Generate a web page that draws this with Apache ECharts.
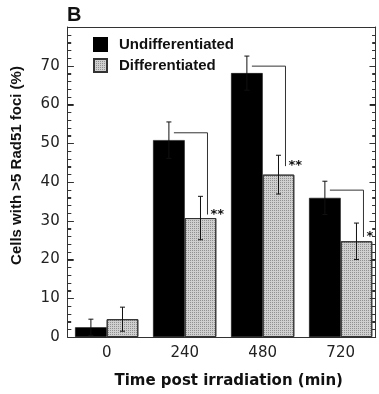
<!DOCTYPE html>
<html>
<head>
<meta charset="utf-8">
<script src="https://cdn.jsdelivr.net/npm/echarts@6/dist/echarts.min.js"></script>
<style>
html, body { margin: 0; padding: 0; background: #fff; }
#chart { width: 379px; height: 394px; }
</style>
</head>
<body>
<div id="chart"></div>
<script>
// 数据
var categories = ['0', '240', '480', '720'];
var undiff = [2.5, 50.8, 68.1, 35.9];
var undiffErr = [2.1, 4.7, 4.4, 4.3];
var diff = [4.6, 30.7, 41.9, 24.7];
var diffErr = [3.1, 5.6, 5.0, 4.7];
var bracketTop = [null, 52.7, 69.9, 37.9];
var bracketEnd = [null, 31.6, 44.1, 25.8];
var stars = ['', '**', '**', '*'];
var yTicks = [0, 10, 20, 30, 40, 50, 60, 70];
var yFrameTicks = [0, 2, 4, 6, 8, 10, 12, 14, 16, 18, 20, 22, 24, 26, 28, 30, 32, 34, 36, 38, 40,
    42, 44, 46, 48, 50, 52, 54, 56, 58, 60, 62, 64, 66, 68, 70, 72, 74, 76, 78, 80];

var BAR_W = 31.6;
var X_MIN = 0, X_MAX = 3.949;

// 组中心放在 i+0.5
var barData1 = [], barData2 = [], errData = [], brData = [], xCenters = [];
for (let i = 0; i < categories.length; i++) {
    let c = i + 0.5;
    xCenters.push(c);
    barData1.push([c, undiff[i]]);
    barData2.push([c, diff[i]]);
    errData.push([c, undiff[i], undiffErr[i], -1]);
    errData.push([c, diff[i], diffErr[i], 1]);
    if (bracketTop[i] !== null) {
        brData.push([c, bracketTop[i], bracketEnd[i], stars[i]]);
    }
}

var chart = echarts.init(document.getElementById('chart'));

var tickFont = { fontFamily: 'DejaVu Sans', fontSize: 15, color: '#222' };

// 左右两侧y轴的公共设置
function frameY(pos, xIdx) {
    return {
        type: 'value',
        min: 0,
        max: 80,
        interval: 10,
        position: pos,
        splitLine: { show: false },
        axisLine: { show: true, onZero: true, onZeroAxisIndex: xIdx, lineStyle: { color: '#333', width: 1 } },
        axisTick: { show: true, inside: true, length: 6, lineStyle: { color: '#222', width: 1 } },
        minorTick: { show: true, splitNumber: 5, length: 3.5, lineStyle: { color: '#333', width: 1 } },
        axisLabel: { show: false }
    };
}

var leftY = frameY('left', 0);
leftY.axisLabel = Object.assign({ show: true, customValues: yTicks, margin: 8 }, tickFont);
leftY.name = 'Cells with >5 Rad51 foci (%)';
leftY.nameLocation = 'middle';
leftY.nameRotate = 90;
leftY.nameGap = 43;
leftY.nameTextStyle = {
    fontFamily: 'Liberation Sans', fontWeight: 'bold', fontSize: 15, color: '#111',
    padding: [0, 0, 0, 33]
};

var option = {
    animation: false,
    title: {
        text: 'B',
        left: 67,
        top: 5,
        padding: 0,
        textStyle: { fontFamily: 'Liberation Sans', fontWeight: 'bold', fontSize: 20, color: '#111' }
    },
    legend: {
        orient: 'vertical',
        left: 93,
        top: 37,
        padding: 0,
        itemWidth: 13,
        itemHeight: 13,
        itemGap: 6,
        selectedMode: false,
        icon: 'rect',
        data: ['Undifferentiated', 'Differentiated'],
        textStyle: {
            fontFamily: 'Liberation Sans', fontWeight: 'bold', fontSize: 15, color: '#111',
            padding: [0, 0, 0, 7]
        }
    },
    grid: { left: 67.7, right: 3.3, top: 27, bottom: 56, containLabel: false },
    xAxis: [
        {
            type: 'value',
            min: X_MIN,
            max: X_MAX,
            position: 'bottom',
            splitLine: { show: false },
            axisTick: { show: false },
            axisLine: { show: true, lineStyle: { color: '#333', width: 1 } },
            axisLabel: Object.assign({
                customValues: xCenters,
                formatter: function (v) { return categories[Math.floor(v)]; },
                margin: 9
            }, tickFont),
            name: 'Time post irradiation (min)',
            nameLocation: 'middle',
            nameGap: 37,
            nameTextStyle: {
                fontFamily: 'DejaVu Sans', fontWeight: 'bold', fontSize: 15, color: '#111',
                padding: [0, 0, 0, 14]
            }
        },
        {
            // 上边框；0 在右端，供右侧y轴贴边
            type: 'value',
            min: -1,
            max: 0,
            position: 'top',
            splitLine: { show: false },
            axisTick: { show: false },
            axisLabel: { show: false },
            axisLine: { show: true, onZero: false, lineStyle: { color: '#333', width: 1 } }
        }
    ],
    yAxis: [leftY, frameY('right', 1)],
    series: [
        {
            name: 'Undifferentiated',
            type: 'bar',
            data: barData1,
            barWidth: BAR_W,
            barGap: '0%',
            itemStyle: { color: '#000', borderColor: '#000', borderWidth: 0.5 }
        },
        {
            name: 'Differentiated',
            type: 'bar',
            data: barData2,
            barWidth: BAR_W,
            barGap: '0%',
            itemStyle: {
                color: '#cfcfcf',
                borderColor: '#333',
                borderWidth: 1,
                decal: {
                    symbol: 'rect',
                    symbolSize: 1,
                    dashArrayX: [1, 1],
                    dashArrayY: [1, 1],
                    color: 'rgba(0,0,0,0.3)'
                }
            }
        },
        {
            // 误差线
            type: 'custom',
            data: errData,
            z: 5,
            renderItem: function (params, api) {
                let c = api.value(0), v = api.value(1), e = api.value(2), side = api.value(3);
                let x = api.coord([c, v])[0] + side * BAR_W / 2;
                let top = api.coord([c, v + e])[1];
                let bot = api.coord([c, v - e])[1];
                let st = { stroke: '#111', lineWidth: 1 };
                return {
                    type: 'group',
                    children: [
                        { type: 'line', shape: { x1: x, y1: top, x2: x, y2: bot }, style: st },
                        { type: 'line', shape: { x1: x - 2.5, y1: top, x2: x + 2.5, y2: top }, style: st },
                        { type: 'line', shape: { x1: x - 2.5, y1: bot, x2: x + 2.5, y2: bot }, style: st }
                    ]
                };
            }
        },
        {
            // 显著性标记
            type: 'custom',
            data: brData,
            z: 6,
            renderItem: function (params, api) {
                let c = api.value(0);
                let cx = api.coord([c, 0])[0];
                let x1 = cx - BAR_W / 2 + 5;
                let x2 = cx + BAR_W / 2 + 7;
                let y1 = api.coord([c, api.value(1)])[1];
                let y2 = api.coord([c, api.value(2)])[1];
                return {
                    type: 'group',
                    children: [
                        {
                            type: 'polyline',
                            shape: { points: [[x1, y1], [x2, y1], [x2, y2]] },
                            style: { stroke: '#333', lineWidth: 1, fill: null }
                        },
                        {
                            type: 'text',
                            style: {
                                x: x2 + 3, y: y2,
                                text: brData[params.dataIndex][3],
                                fontFamily: 'DejaVu Sans', fontWeight: 'bold', fontSize: 13,
                                fill: '#111', align: 'left', verticalAlign: 'middle'
                            }
                        }
                    ]
                };
            }
        },
        {
            // 边框两侧向内的刻度（与轴刻度重合）
            type: 'custom',
            data: yFrameTicks.map(function (v) { return [X_MIN, v]; }),
            z: 4,
            silent: true,
            renderItem: function (params, api) {
                let v = api.value(1);
                let y = Math.round(api.coord([X_MIN, v])[1]) + 0.5;
                let xl = api.coord([X_MIN, v])[0];
                let xr = api.coord([X_MAX, v])[0];
                let len = (v % 10 === 0) ? 6 : 3.5;
                let st = { stroke: '#333', lineWidth: 1 };
                return {
                    type: 'group',
                    children: [
                        { type: 'line', shape: { x1: xl, y1: y, x2: xl + len, y2: y }, style: st },
                        { type: 'line', shape: { x1: xr - len, y1: y, x2: xr, y2: y }, style: st }
                    ]
                };
            }
        }
    ]
};

chart.setOption(option);
</script>
</body>
</html>
